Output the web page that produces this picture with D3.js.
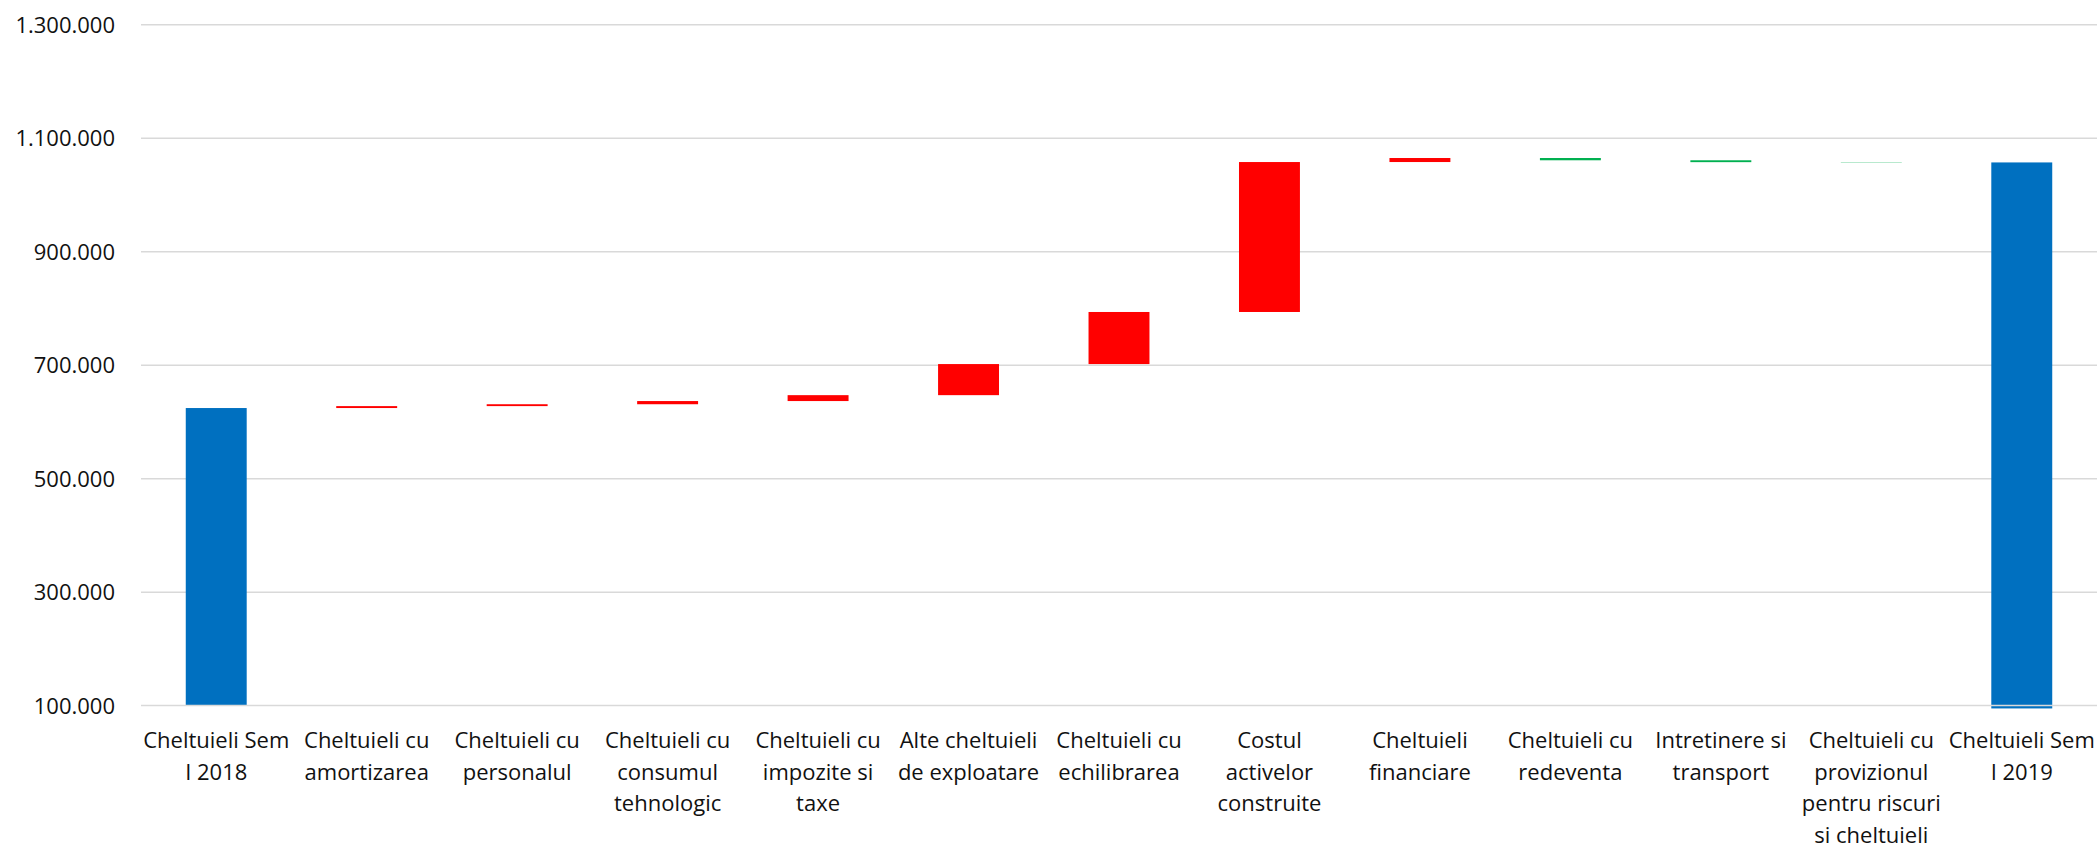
<!DOCTYPE html>
<html>
<head>
<meta charset="utf-8">
<script src="https://cdn.jsdelivr.net/npm/d3@7"></script>
<style>
  html, body { margin: 0; padding: 0; background: #fff; }
  svg { display: block; }
  text { font-family: "Open Sans", "Noto Sans", sans-serif; fill: #111; }
</style>
</head>
<body>
<svg id="chart" width="2100" height="851"></svg>
<script>
// Waterfall: half-year expenses 2018 -> 2019, broken down by expense type
const categories = [
  "Cheltuieli Sem I 2018",
  "Cheltuieli cu amortizarea",
  "Cheltuieli cu personalul",
  "Cheltuieli cu consumul tehnologic",
  "Cheltuieli cu impozite si taxe",
  "Alte cheltuieli de exploatare",
  "Cheltuieli cu echilibrarea",
  "Costul activelor construite",
  "Cheltuieli financiare",
  "Cheltuieli cu redeventa",
  "Intretinere si transport",
  "Cheltuieli cu provizionul pentru riscuri si cheltuieli",
  "Cheltuieli Sem I 2019"
];

// Wrapped axis labels, one array of lines per category
const labelLines = [
  ["Cheltuieli Sem", "I 2018"],
  ["Cheltuieli cu", "amortizarea"],
  ["Cheltuieli cu", "personalul"],
  ["Cheltuieli cu", "consumul", "tehnologic"],
  ["Cheltuieli cu", "impozite si", "taxe"],
  ["Alte cheltuieli", "de exploatare"],
  ["Cheltuieli cu", "echilibrarea"],
  ["Costul", "activelor", "construite"],
  ["Cheltuieli", "financiare"],
  ["Cheltuieli cu", "redeventa"],
  ["Intretinere si", "transport"],
  ["Cheltuieli cu", "provizionul", "pentru riscuri", "si cheltuieli"],
  ["Cheltuieli Sem", "I 2019"]
];

// Opening total, then changes per category; the closing total is the running sum
const changes = [624500, 3400, 3300, 5600, 10400, 54800, 91800, 264300, 7100, -4000, -3300, -500, 0];
const kinds   = ["total", "delta", "delta", "delta", "delta", "delta", "delta", "delta", "delta", "delta", "delta", "delta", "total"];

const yTicks = [100000, 300000, 500000, 700000, 900000, 1100000, 1300000];
const yDomain = [100000, 1300000];
const closingBase = 95000;   // closing total bar runs slightly past the axis

const colors = { total: "#0070C0", up: "#FF0000", down: "#00B050" };

// Build start/end of each bar
let running = 0;
const bars = categories.map((c, i) => {
  let y0, y1, type;
  if (kinds[i] === "total") {
    if (i === 0) { running = changes[i]; y0 = yDomain[0]; }
    else { y0 = closingBase; }
    y1 = running;
    type = "total";
  } else {
    y0 = running;
    running += changes[i];
    y1 = running;
    type = changes[i] >= 0 ? "up" : "down";
  }
  return { cat: c, lines: labelLines[i], lo: Math.min(y0, y1), hi: Math.max(y0, y1), type };
});

const svg = d3.select("#chart");
const plotLeft = 141, plotRight = 2097, plotTop = 24.8, plotBottom = 705.6;

const x = d3.scaleBand().domain(categories).range([plotLeft, plotRight])
  .paddingInner(0.595).paddingOuter(0.2975);
const y = d3.scaleLinear().domain(yDomain).range([plotBottom, plotTop]);

const loc = d3.formatLocale({ decimal: ",", thousands: ".", grouping: [3], currency: ["", ""] });
const fmt = loc.format(",.0f");

// Gridlines
svg.append("g").selectAll("line").data(yTicks.filter(t => t !== yDomain[0])).join("line")
  .attr("x1", plotLeft).attr("x2", plotRight)
  .attr("y1", d => y(d)).attr("y2", d => y(d))
  .attr("stroke", "#d9d9d9").attr("stroke-width", 1.5);

// Bars
svg.append("g").selectAll("rect").data(bars).join("rect")
  .attr("x", d => x(d.cat))
  .attr("width", x.bandwidth())
  .attr("y", d => y(d.hi))
  .attr("height", d => y(d.lo) - y(d.hi))
  .attr("fill", d => colors[d.type]);

// Category axis line on top of the bars
svg.append("line")
  .attr("x1", plotLeft).attr("x2", plotRight)
  .attr("y1", y(yDomain[0])).attr("y2", y(yDomain[0]))
  .attr("stroke", "#d9d9d9").attr("stroke-width", 1.5);

// Y axis labels
svg.append("g").selectAll("text").data(yTicks).join("text")
  .attr("x", 115)
  .attr("y", d => y(d))
  .attr("dy", "0.36em")
  .attr("text-anchor", "end")
  .style("font-size", "22px")
  .text(d => fmt(d));

// X axis labels
const xl = svg.append("g").selectAll("text").data(bars).join("text")
  .attr("text-anchor", "middle")
  .style("font-size", "22px")
  .attr("transform", d => `translate(${x(d.cat) + x.bandwidth() / 2},748)`);
xl.selectAll("tspan").data(d => d.lines).join("tspan")
  .attr("x", 0)
  .attr("y", (d, i) => i * 31.5)
  .text(d => d);
</script>
</body>
</html>
